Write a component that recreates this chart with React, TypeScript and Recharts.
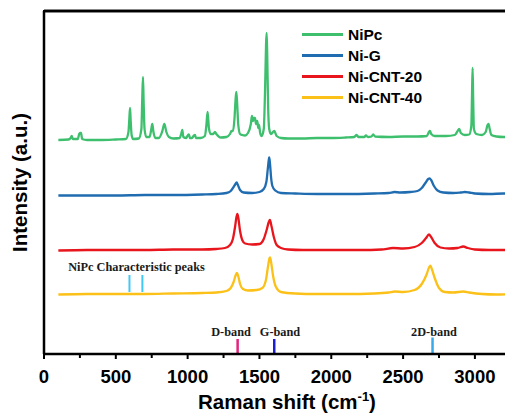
import {
  LineChart,
  Line,
  XAxis,
  YAxis,
  Legend,
  ReferenceLine,
  ReferenceDot,
} from "recharts";

// Raman spectra (intensity in arbitrary units, curves offset)
const nipc = [
  { x: 100, y: 214 }, { x: 170, y: 214.5 }, { x: 185, y: 216 }, { x: 193, y: 218 },
  { x: 200, y: 215 }, { x: 235, y: 215 }, { x: 245, y: 220 }, { x: 251, y: 221 },
  { x: 258, y: 221 }, { x: 265, y: 215 }, { x: 300, y: 214 }, { x: 400, y: 214 },
  { x: 500, y: 214.5 }, { x: 570, y: 215 }, { x: 588, y: 222 }, { x: 594, y: 235 },
  { x: 599, y: 246 }, { x: 604, y: 232 }, { x: 610, y: 219 }, { x: 620, y: 215 },
  { x: 660, y: 215.5 }, { x: 678, y: 225 }, { x: 684, y: 255 }, { x: 689, y: 277 },
  { x: 694, y: 250 }, { x: 700, y: 225 }, { x: 712, y: 217 }, { x: 735, y: 217 },
  { x: 746, y: 224 }, { x: 754, y: 230 }, { x: 762, y: 222 }, { x: 775, y: 216 },
  { x: 800, y: 216 }, { x: 822, y: 222 }, { x: 838, y: 230 }, { x: 852, y: 222 },
  { x: 870, y: 217 }, { x: 900, y: 215.5 }, { x: 945, y: 216 }, { x: 955, y: 220 },
  { x: 963, y: 224 }, { x: 970, y: 217 }, { x: 990, y: 216 }, { x: 1002, y: 219 },
  { x: 1009, y: 219.5 }, { x: 1016, y: 216 }, { x: 1030, y: 216 }, { x: 1044, y: 218.5 },
  { x: 1051, y: 219 }, { x: 1058, y: 216 }, { x: 1090, y: 216 }, { x: 1120, y: 218 },
  { x: 1130, y: 228 }, { x: 1139, y: 242 }, { x: 1148, y: 226 }, { x: 1160, y: 220 },
  { x: 1178, y: 220 }, { x: 1190, y: 222 }, { x: 1200, y: 220 }, { x: 1230, y: 216.5 },
  { x: 1270, y: 217 }, { x: 1295, y: 220 }, { x: 1306, y: 223 }, { x: 1316, y: 223 },
  { x: 1326, y: 235 }, { x: 1334, y: 255 }, { x: 1339, y: 262 }, { x: 1345, y: 250 },
  { x: 1352, y: 230 }, { x: 1365, y: 220 }, { x: 1380, y: 219 }, { x: 1400, y: 218.5 },
  { x: 1420, y: 221 }, { x: 1440, y: 230 }, { x: 1448, y: 238 }, { x: 1455, y: 233 },
  { x: 1462, y: 236 }, { x: 1469, y: 236 }, { x: 1476, y: 230 }, { x: 1485, y: 233 },
  { x: 1491, y: 226 }, { x: 1497, y: 229 }, { x: 1505, y: 221 }, { x: 1515, y: 218 },
  { x: 1530, y: 225 }, { x: 1540, y: 270 }, { x: 1546, y: 310 }, { x: 1550, y: 321 },
  { x: 1554, y: 300 }, { x: 1560, y: 250 }, { x: 1568, y: 225 }, { x: 1580, y: 220 },
  { x: 1603, y: 223 }, { x: 1620, y: 218 }, { x: 1650, y: 216 }, { x: 1700, y: 215.5 },
  { x: 1800, y: 215.5 }, { x: 1900, y: 216 }, { x: 2000, y: 216 }, { x: 2100, y: 216.5 },
  { x: 2160, y: 217 }, { x: 2176, y: 219 }, { x: 2190, y: 217 }, { x: 2230, y: 217 },
  { x: 2241, y: 218.5 }, { x: 2255, y: 217 }, { x: 2280, y: 217.5 }, { x: 2292, y: 219.5 },
  { x: 2305, y: 217.5 }, { x: 2400, y: 217 }, { x: 2500, y: 217.5 }, { x: 2600, y: 217.5 },
  { x: 2665, y: 218 }, { x: 2680, y: 222 }, { x: 2687, y: 223 }, { x: 2696, y: 220 },
  { x: 2720, y: 218 }, { x: 2800, y: 218 }, { x: 2860, y: 219 }, { x: 2880, y: 223 },
  { x: 2891, y: 225 }, { x: 2902, y: 221 }, { x: 2930, y: 219 }, { x: 2960, y: 219.5 },
  { x: 2975, y: 228 }, { x: 2980, y: 260 }, { x: 2984, y: 286 }, { x: 2988, y: 255 },
  { x: 2993, y: 225 }, { x: 3010, y: 220 }, { x: 3050, y: 219 }, { x: 3075, y: 222 },
  { x: 3088, y: 229 }, { x: 3095, y: 230 }, { x: 3103, y: 225 }, { x: 3115, y: 219 },
  { x: 3150, y: 217.5 }, { x: 3200, y: 217 }, { x: 3250, y: 217 },
];

const niG = [
  { x: 100, y: 158.5 }, { x: 300, y: 158.5 }, { x: 500, y: 158.5 }, { x: 700, y: 159 },
  { x: 900, y: 159 }, { x: 1100, y: 159.5 }, { x: 1200, y: 160 }, { x: 1270, y: 161 },
  { x: 1300, y: 163 }, { x: 1320, y: 167 }, { x: 1333, y: 170 }, { x: 1341, y: 171.5 },
  { x: 1350, y: 169 }, { x: 1365, y: 164 }, { x: 1390, y: 161.5 }, { x: 1450, y: 161 },
  { x: 1500, y: 162 }, { x: 1530, y: 165 }, { x: 1548, y: 172 }, { x: 1558, y: 185 },
  { x: 1564, y: 193 }, { x: 1568, y: 196.5 }, { x: 1573, y: 191 }, { x: 1580, y: 178 },
  { x: 1590, y: 168 }, { x: 1610, y: 163.5 }, { x: 1650, y: 161 }, { x: 1750, y: 160.5 },
  { x: 1900, y: 160 }, { x: 2100, y: 160 }, { x: 2300, y: 160.5 }, { x: 2400, y: 161 },
  { x: 2440, y: 162 }, { x: 2480, y: 161.5 }, { x: 2550, y: 162 }, { x: 2600, y: 163 },
  { x: 2630, y: 166 }, { x: 2655, y: 171 }, { x: 2675, y: 175 }, { x: 2685, y: 175.7 },
  { x: 2695, y: 174 }, { x: 2715, y: 168 }, { x: 2740, y: 163.5 }, { x: 2780, y: 161.5 },
  { x: 2850, y: 161 }, { x: 2900, y: 161.5 }, { x: 2930, y: 162 }, { x: 2960, y: 161.5 },
  { x: 3000, y: 160.5 }, { x: 3100, y: 160 }, { x: 3200, y: 160.5 }, { x: 3250, y: 160.5 },
];

const niCnt20 = [
  { x: 100, y: 103.5 }, { x: 300, y: 104 }, { x: 500, y: 104 }, { x: 700, y: 104 },
  { x: 900, y: 104.5 }, { x: 1100, y: 104.5 }, { x: 1200, y: 105 }, { x: 1260, y: 106 },
  { x: 1295, y: 109 }, { x: 1315, y: 115 }, { x: 1330, y: 127 }, { x: 1340, y: 137 },
  { x: 1346, y: 140 }, { x: 1353, y: 136 }, { x: 1365, y: 123 }, { x: 1380, y: 114 },
  { x: 1400, y: 110.5 }, { x: 1450, y: 109.5 }, { x: 1500, y: 110 }, { x: 1530, y: 115 },
  { x: 1550, y: 124 }, { x: 1565, y: 132 }, { x: 1573, y: 134 }, { x: 1582, y: 129 },
  { x: 1600, y: 117 }, { x: 1620, y: 109 }, { x: 1650, y: 106 }, { x: 1700, y: 104.5 },
  { x: 1800, y: 104 }, { x: 2000, y: 104 }, { x: 2200, y: 104 }, { x: 2350, y: 104.5 },
  { x: 2430, y: 106 }, { x: 2500, y: 105.5 }, { x: 2580, y: 107 }, { x: 2630, y: 111 },
  { x: 2660, y: 116 }, { x: 2680, y: 119.5 }, { x: 2695, y: 117 }, { x: 2720, y: 111 },
  { x: 2760, y: 106.5 }, { x: 2820, y: 105.5 }, { x: 2880, y: 106 }, { x: 2919, y: 107.5 },
  { x: 2950, y: 106 }, { x: 3000, y: 104.5 }, { x: 3100, y: 104 }, { x: 3200, y: 104 },
  { x: 3250, y: 104 },
];

const niCnt40 = [
  { x: 100, y: 59.5 }, { x: 300, y: 60 }, { x: 500, y: 60 }, { x: 700, y: 60 },
  { x: 900, y: 60.5 }, { x: 1100, y: 61 }, { x: 1200, y: 61.5 }, { x: 1270, y: 63 },
  { x: 1300, y: 66 }, { x: 1320, y: 72 }, { x: 1335, y: 79 }, { x: 1343, y: 81 },
  { x: 1352, y: 78 }, { x: 1365, y: 70 }, { x: 1385, y: 65 }, { x: 1420, y: 63.5 },
  { x: 1480, y: 64 }, { x: 1520, y: 66 }, { x: 1545, y: 74 }, { x: 1560, y: 88 },
  { x: 1568, y: 95 }, { x: 1574, y: 96.5 }, { x: 1582, y: 91 }, { x: 1595, y: 78 },
  { x: 1615, y: 67 }, { x: 1650, y: 62 }, { x: 1750, y: 60.5 }, { x: 1900, y: 60 },
  { x: 2100, y: 60 }, { x: 2300, y: 60.5 }, { x: 2400, y: 61.5 }, { x: 2443, y: 62.5 },
  { x: 2500, y: 62 }, { x: 2580, y: 64 }, { x: 2630, y: 70 }, { x: 2665, y: 80 },
  { x: 2682, y: 87 }, { x: 2690, y: 88.3 }, { x: 2700, y: 85 }, { x: 2720, y: 76 },
  { x: 2750, y: 66 }, { x: 2790, y: 62 }, { x: 2850, y: 61.5 }, { x: 2919, y: 62.5 },
  { x: 2960, y: 61.5 }, { x: 3050, y: 60 }, { x: 3150, y: 59.5 }, { x: 3250, y: 60 },
];

const series = [
  { name: "NiPc", data: nipc, color: "#3ebf6e" },
  { name: "Ni-G", data: niG, color: "#1f6cb0" },
  { name: "Ni-CNT-20", data: niCnt20, color: "#e8151c" },
  { name: "Ni-CNT-40", data: niCnt40, color: "#fbc118" },
];

const xTicks = [0, 250, 500, 750, 1000, 1250, 1500, 1750, 2000, 2250, 2500, 2750, 3000, 3250];

// characteristic NiPc peaks marked under the Ni-CNT-40 trace
const nipcMarks = [595, 685];
const bands = [
  { name: "D-band", x: 1348, labelX: 1302, top: 15, color: "#e3237f" },
  { name: "G-band", x: 1603, labelX: 1643, top: 15, color: "#1a1fd6" },
  { name: "2D-band", x: 2705, labelX: 2715, top: 16.5, color: "#39a9ec" },
];

const sans = "Arial, 'Liberation Sans', sans-serif";
const serif = "'Times New Roman', 'Liberation Serif', serif";

function XTick({ x, y, payload }: any) {
  const major = payload.value % 500 === 0;
  return (
    <g>
      <line x1={x} x2={x} y1={y} y2={y + (major ? 5 : 4)} stroke="#000" strokeWidth={2} />
      {major && (
        <text x={x} y={y + 29} textAnchor="middle" fontFamily={sans} fontWeight="bold" fontSize={18.5} fill="#000">
          {payload.value}
        </text>
      )}
    </g>
  );
}

function XLabel({ viewBox }: any) {
  const { x, y } = viewBox;
  return (
    <text x={x + 243} y={y + 55} textAnchor="middle" fontFamily={sans} fontWeight="bold" fontSize={20.5} fill="#000">
      Raman shift (cm
      <tspan dy={-8} fontSize={13}>-1</tspan>
      <tspan dy={8}>)</tspan>
    </text>
  );
}

function YLabel({ viewBox }: any) {
  const { x, y, height } = viewBox;
  const cx = x + 19;
  const cy = y + height / 2;
  return (
    <text x={cx} y={cy} transform={`rotate(-90, ${cx}, ${cy})`} textAnchor="middle" dominantBaseline="central"
      fontFamily={sans} fontWeight="bold" fontSize={20.5} fill="#000">
      Intensity (a.u.)
    </text>
  );
}

function LegendBox() {
  return (
    <div style={{ fontFamily: sans, fontWeight: "bold", fontSize: 15.5, color: "#000" }}>
      {series.map((s) => (
        <div key={s.name} style={{ display: "flex", alignItems: "center", height: 21 }}>
          <span style={{ display: "inline-block", width: 41, height: 2.5, background: s.color, marginRight: 5 }} />
          <span>{s.name}</span>
        </div>
      ))}
    </div>
  );
}

export default function App() {
  return (
    <div style={{ position: "fixed", left: 0, top: 0, width: 505, height: 416, overflow: "hidden", background: "#fff" }}>
      <LineChart width={540} height={416} margin={{ top: 11, right: 22, left: 0, bottom: 0 }}>
        <XAxis
          type="number"
          dataKey="x"
          domain={[0, 3300]}
          ticks={xTicks}
          allowDataOverflow
          interval={0}
          height={62}
          tickLine={false}
          tickSize={0}
          tickMargin={0}
          tick={<XTick />}
          axisLine={{ stroke: "#000", strokeWidth: 2.5 }}
          label={<XLabel />}
        />
        <YAxis
          type="number"
          dataKey="y"
          domain={[0, 343]}
          allowDataOverflow
          width={44}
          tick={false}
          tickLine={false}
          axisLine={{ stroke: "#000", strokeWidth: 2.5 }}
          label={<YLabel />}
        />
        <ReferenceLine y={343} stroke="#111" strokeWidth={3} ifOverflow="visible" />
        <Legend
          layout="vertical"
          align="center"
          verticalAlign="middle"
          content={() => <LegendBox />}
          wrapperStyle={{ left: 302, top: 24, width: "auto" }}
        />
        {series.map((s) => (
          <Line
            key={s.name}
            data={s.data}
            dataKey="y"
            name={s.name}
            type="monotone"
            stroke={s.color}
            strokeWidth={2.3}
            dot={false}
            isAnimationActive={false}
          />
        ))}
        {nipcMarks.map((m) => (
          <ReferenceLine
            key={m}
            segment={[{ x: m, y: 62 }, { x: m, y: 79 }]}
            stroke="#41c8f5"
            strokeWidth={2}
          />
        ))}
        <ReferenceDot
          x={644}
          y={87}
          r={0}
          fill="none"
          stroke="none"
          label={{ value: "NiPc Characteristic peaks", position: "center", fontFamily: serif, fontWeight: "bold", fontSize: 12.3, fill: "#1a1a1a" }}
        />
        {bands.map((b) => (
          <ReferenceLine
            key={b.name}
            segment={[{ x: b.x, y: 0 }, { x: b.x, y: b.top }]}
            stroke={b.color}
            strokeWidth={2.5}
          />
        ))}
        {bands.map((b) => (
          <ReferenceDot
            key={b.name + "-label"}
            x={b.labelX}
            y={22.5}
            r={0}
            fill="none"
            stroke="none"
            label={{ value: b.name, position: "center", fontFamily: serif, fontWeight: "bold", fontSize: 12.3, fill: "#1a1a1a" }}
          />
        ))}
      </LineChart>
      {/* top edge of the plot frame */}
      <div
        style={{
          position: "absolute",
          left: 43,
          right: 0,
          top: 10,
          borderTop: "2.5px solid #000",
          pointerEvents: "none",
          zIndex: 5,
        }}
      />
    </div>
  );
}
